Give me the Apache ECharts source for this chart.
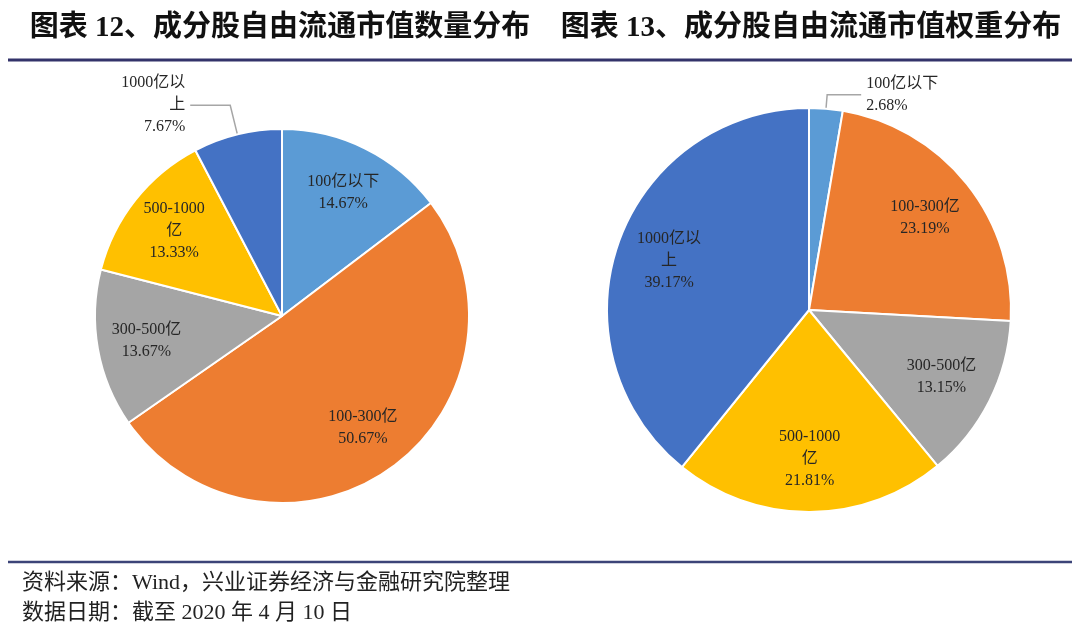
<!DOCTYPE html>
<html>
<head>
<meta charset="utf-8">
<script src="https://cdn.jsdelivr.net/npm/echarts@6/dist/echarts.min.js"></script>
<style>html,body{margin:0;padding:0;background:#fff}#c{width:1080px;height:634px}</style>
</head>
<body>
<div id="c"></div>
<script>
// ---- data ----
const categories = ['100亿以下', '100-300亿', '300-500亿', '500-1000亿', '1000亿以上'];
const labelNames = ['100亿以下', '100-300亿', '300-500亿', '500-1000\n亿', '1000亿以\n上'];
const countShare = [14.67, 50.67, 13.67, 13.33, 7.67];
const weightShare = [2.68, 23.19, 13.15, 21.81, 39.17];
const colors = ['#5B9BD5', '#ED7D31', '#A5A5A5', '#FFC000', '#4472C4'];
const title1 = '图表 12、成分股自由流通市值数量分布';
const title2 = '图表 13、成分股自由流通市值权重分布';
const source1 = '资料来源：Wind，兴业证券经济与金融研究院整理';
const source2 = '数据日期：截至 2020 年 4 月 10 日';

const FONT = '"Liberation Serif", "Noto Sans CJK SC", serif';
const labelStyle = { fontFamily: FONT, fontSize: 16, color: '#262626', lineHeight: 22 };

function fmt(p) { return labelNames[p.dataIndex] + '\n' + p.value.toFixed(2) + '%'; }

function makeSeries(values, center, r, outsideIdx, lineLen, lineLen2) {
  const base = values.map((v, i) => ({
    name: categories[i], value: v,
    itemStyle: { color: colors[i] },
    label: { show: i === outsideIdx },
    labelLine: { show: i === outsideIdx }
  }));
  const overlay = values.map((v, i) => ({
    name: categories[i], value: v,
    label: { show: i !== outsideIdx }
  }));
  return [
    {
      type: 'pie', center: center, radius: [0, r], startAngle: 90, clockwise: true,
      avoidLabelOverlap: false, animation: false,
      itemStyle: { borderColor: '#fff', borderWidth: 2 },
      label: Object.assign({ position: 'outside', formatter: fmt }, labelStyle),
      labelLine: { length: lineLen, length2: lineLen2, lineStyle: { color: '#a6a6a6', width: 1.5 } },
      data: base
    },
    {
      type: 'pie', center: center, radius: [r * 0.44, r], startAngle: 90, clockwise: true,
      silent: true, animation: false, avoidLabelOverlap: false,
      itemStyle: { color: 'rgba(0,0,0,0)', borderWidth: 0 },
      label: Object.assign({ position: 'inside', formatter: fmt }, labelStyle),
      labelLine: { show: false },
      data: overlay
    }
  ];
}

const chart = echarts.init(document.getElementById('c'), null, { renderer: 'canvas' });
chart.setOption({
  backgroundColor: '#fff',
  title: [
    { text: title1, left: 275, top: 9, textAlign: 'center',
      textStyle: { fontFamily: FONT, fontSize: 29, fontWeight: 'bold', color: '#111' } },
    { text: title2, left: 806, top: 9, textAlign: 'center',
      textStyle: { fontFamily: FONT, fontSize: 29, fontWeight: 'bold', color: '#111' } },
    { text: source1, left: 17, top: 567,
      textStyle: { fontFamily: FONT, fontSize: 22, fontWeight: 'normal', color: '#222' } },
    { text: source2, left: 17, top: 597,
      textStyle: { fontFamily: FONT, fontSize: 22, fontWeight: 'normal', color: '#222' } }
  ],
  graphic: [
    { type: 'line', shape: { x1: 8, y1: 60, x2: 1072, y2: 60 }, style: { stroke: '#33336a', lineWidth: 3 } },
    { type: 'line', shape: { x1: 8, y1: 562, x2: 1072, y2: 562 }, style: { stroke: '#3c4478', lineWidth: 2.5 } }
  ],
  series: [].concat(
    makeSeries(countShare, [282, 316], 187, 4, 30, 40),
    makeSeries(weightShare, [809, 310], 202, 0, 14, 34)
  )
});
</script>
</body>
</html>
